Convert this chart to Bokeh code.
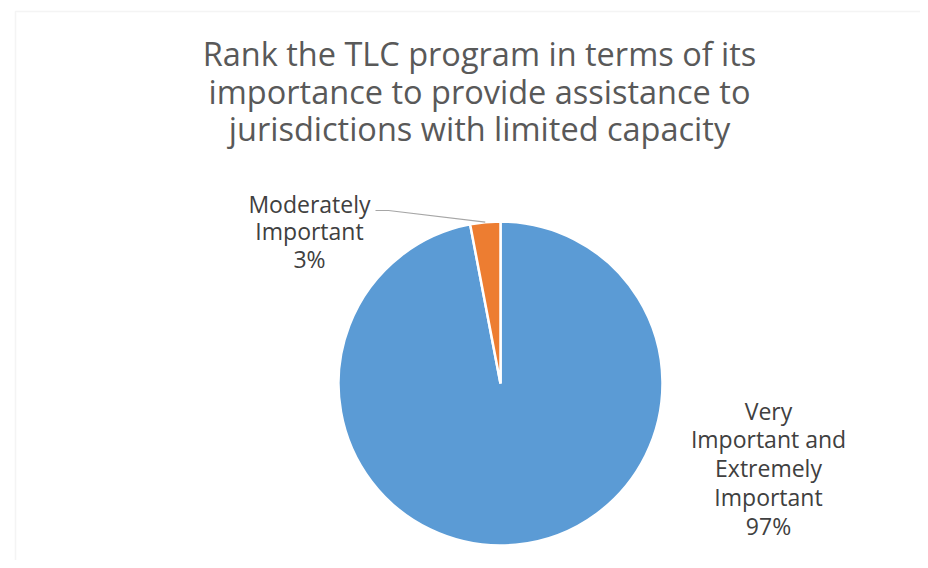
import math
from bokeh.plotting import figure
from bokeh.models import Range1d, BoxAnnotation, ColumnDataSource
from bokeh.core.properties import value
from bokeh.embed import file_html
from bokeh.resources import INLINE

# ---- data ----
categories = ["Very Important and Extremely Important", "Moderately Important"]
shares = [97, 3]
slice_colors = ["#5B9BD5", "#ED7D31"]
label_lines = [["Very", "Important and", "Extremely", "Important", "97%"],
               ["Moderately", "Important", "3%"]]
title_lines = ["Rank the TLC program in terms of its",
               "importance to provide assistance to",
               "jurisdictions with limited capacity"]

W, H = 920, 560
p = figure(width=W, height=H, output_backend="svg", toolbar_location=None,
           x_range=Range1d(0, W), y_range=Range1d(0, H), min_border=0)
p.axis.visible = False
p.grid.visible = False
p.outline_line_color = None
p.background_fill_color = "white"
p.border_fill_color = "white"

# chart frame (left/top visible)
p.add_layout(BoxAnnotation(left=15, right=W + 50, bottom=-50, top=549,
                           fill_alpha=0, line_color="#d9d9d9", line_width=1.5))

cx, cy, r = 500, 177, 162
total = sum(shares)
starts, ends = [], []
ang = math.pi / 2
for s in shares:
    starts.append(ang)
    ang = ang - 2 * math.pi * s / total
    ends.append(ang)

src = ColumnDataSource(dict(cat=categories, val=shares, color=slice_colors,
                            start=starts, end=ends))
p.wedge(x=cx, y=cy, radius=r, start_angle="start", end_angle="end",
        direction="clock", fill_color="color", line_color="white",
        line_width=2.5, source=src)

# title
tfont = value("Open Sans")
for i, t in enumerate(title_lines):
    p.text(x=[479], y=[507 - i * 37.5], text=[t], text_font=tfont,
           text_font_size="32.5px", text_color="#595959", text_align="center",
           text_baseline="alphabetic")

lfont = value("Open Sans")
# right label (blue)
for i, t in enumerate(label_lines[0]):
    p.text(x=[768], y=[150 - i * 28.8], text=[t], text_font=lfont,
           text_font_size="23px", text_color="#404040", text_align="center",
           text_baseline="alphabetic")
# left label (orange)
for i, t in enumerate(label_lines[1]):
    p.text(x=[309], y=[357 - i * 27.5], text=[t], text_font=lfont,
           text_font_size="23px", text_color="#404040", text_align="center",
           text_baseline="alphabetic")

# leader line from label to orange slice edge
mid = (starts[1] + ends[1]) / 2
ex, ey = cx + r * math.cos(mid), cy + r * math.sin(mid)
p.line(x=[375, 388, ex], y=[350, 350, ey], line_color="#a6a6a6", line_width=1.2)

open("out.html", "w").write(file_html(p, INLINE))
